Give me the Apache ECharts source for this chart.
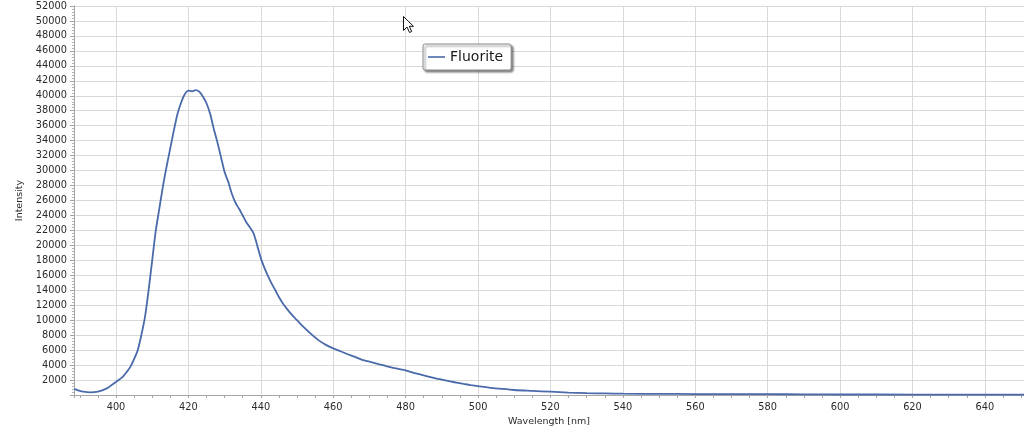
<!DOCTYPE html>
<html>
<head>
<meta charset="utf-8">
<script src="https://cdn.jsdelivr.net/npm/echarts@6/dist/echarts.min.js"></script>
<style>
html,body{margin:0;padding:0;background:#fff;}
#chart{width:1024px;height:435px;}
</style>
</head>
<body>
<div id="chart"></div>
<script>
// Wavelength (nm) and intensity
var wavelengths = [388.5,389,390,391,392,393,394,395,396,397,398,399,400,401,402,403,404,405,406,407,408,409,410,411,412,413,414,415,416,417,418,419,420,421,422,423,424,425,426,427,428,429,430,431,432,433,434,435,436,437,438,439,440,441,442,443,444,445,446,447,448,449,450,452,454,456,458,460,462,464,466,468,470,472,474,476,478,480,482,484,486,488,490,492,494,496,498,500,503,506,510,515,520,525,530,535,540,550,560,570,580,590,600,620,640,651];
var intensity = [820,720,560,450,380,360,380,450,580,780,1050,1400,1750,2100,2500,3100,3800,4800,6000,8000,10400,14000,18000,22000,25000,28000,30600,33000,35400,37600,39100,40200,40700,40600,40750,40550,39900,39000,37600,35600,33800,31800,29800,28500,26900,25700,24900,24000,23100,22400,21600,20000,18300,17000,15900,14900,14000,13100,12300,11650,11050,10500,10000,9000,8100,7300,6700,6230,5850,5450,5100,4700,4450,4200,3950,3700,3500,3300,3000,2750,2500,2250,2050,1850,1650,1480,1330,1200,1000,850,670,550,440,330,250,210,180,150,130,120,110,90,70,60,55,50];
var seriesName = 'Fluorite';
var xName = 'Wavelength [nm]';
var yName = 'Intensity';

var xMin = 388.4, xMax = 650.8;
var yMin = 0, yMax = 52000, yStep = 2000;

var points = wavelengths.map(function(w, i){ return [w, intensity[i]]; });

var font = 'DejaVu Sans';
var labelColor = '#2a2a2a';
var chart = echarts.init(document.getElementById('chart'), null, {renderer:'canvas'});
chart.setOption({
  animation: false,
  backgroundColor: '#ffffff',
  grid: {left: 74, right: 0, top: 6, bottom: 40},
  legend: {
    left: 423, top: 44,
    padding: [6, 8, 6, 5],
    icon: 'rect',
    itemWidth: 17, itemHeight: 1.6, itemGap: 6,
    backgroundColor: '#ffffff',
    borderColor: '#8a8a8a', borderWidth: 1, borderRadius: 2,
    shadowColor: 'rgba(0,0,0,0.45)', shadowBlur: 2, shadowOffsetX: 2, shadowOffsetY: 2,
    textStyle: {fontFamily: font, fontSize: 14, color: '#1a1a1a', lineHeight: 14},
    data: [seriesName]
  },
  xAxis: [{
    type: 'value', min: xMin, max: xMax, minInterval: 20, maxInterval: 20,
    position: 'bottom',
    name: xName, nameLocation: 'middle', nameGap: 19,
    nameTextStyle: {fontFamily: font, fontSize: 9.5, color: labelColor},
    axisLine: {show: true, lineStyle: {color: '#a6a6a6', width: 1}},
    axisTick: {show: true, length: 3, lineStyle: {color: '#a6a6a6'}},
    axisLabel: {fontFamily: font, fontSize: 9.8, color: labelColor, margin: 7, showMinLabel: false, showMaxLabel: false},
    splitLine: {show: true, lineStyle: {color: '#d9d9d9', width: 1}}
  },{
    type: 'value', min: xMin, max: xMax, minInterval: 5, maxInterval: 5,
    position: 'bottom',
    axisLine: {show: false},
    axisTick: {show: true, length: 3, lineStyle: {color: '#a6a6a6'}},
    axisLabel: {show: false},
    splitLine: {show: false}
  }],
  yAxis: {
    type: 'value', min: yMin, max: yMax, interval: yStep,
    name: yName, nameLocation: 'middle', nameGap: 45,
    nameTextStyle: {fontFamily: font, fontSize: 9.5, color: labelColor},
    axisLine: {show: true, lineStyle: {color: '#a6a6a6', width: 1}},
    axisTick: {show: true, length: 4, lineStyle: {color: '#a6a6a6'}},
    minorTick: {show: true, splitNumber: 5, length: 2, lineStyle: {color: '#b5b5b5'}},
    axisLabel: {fontFamily: font, fontSize: 9.8, color: labelColor, margin: 7, showMinLabel: false,
      formatter: function(v){ return String(v); }},
    splitLine: {show: true, lineStyle: {color: '#d9d9d9', width: 1}}
  },
  series: [{
    name: seriesName, type: 'line', xAxisIndex: 0,
    data: points, showSymbol: false, symbol: 'none', smooth: 0.3,
    lineStyle: {color: '#4a6aab', width: 1.8},
    itemStyle: {color: '#4a6aab'}
  }],
  graphic: [{
    type: 'polygon', x: 403.5, y: 16.5, z: 100,
    shape: {points: [[0,0],[0,14],[3.5,10.5],[6,16],[8.2,15],[5.8,9.8],[10,9.8]]},
    style: {fill: '#ffffff', stroke: '#111111', lineWidth: 1}
  }]
});
</script>
</body>
</html>
